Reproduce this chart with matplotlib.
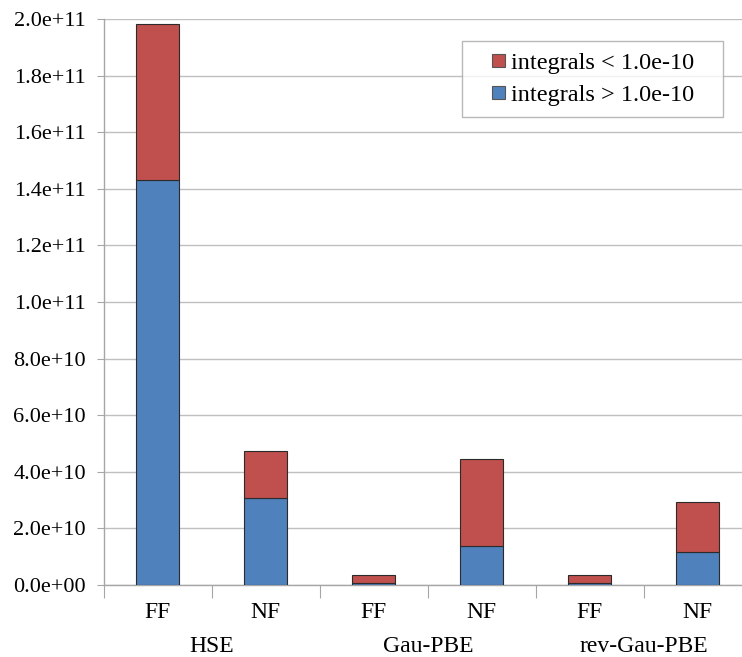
import numpy as np
import matplotlib.pyplot as plt
from matplotlib.patches import Patch, Rectangle
from matplotlib.legend_handler import HandlerPatch
from matplotlib.ticker import FuncFormatter, MultipleLocator
from matplotlib.transforms import blended_transform_factory

# ==========================================
# Data
# ==========================================
groups = ["HSE", "Gau-PBE", "rev-Gau-PBE"]
methods = ["FF", "NF", "FF", "NF", "FF", "NF"]
above = [1.432e11, 3.08e10, 6.0e8, 1.38e10, 6.0e8, 1.15e10]     # integrals > 1.0e-10
below = [0.551e11, 1.67e10, 2.9e9, 3.09e10, 2.9e9, 1.78e10]     # integrals < 1.0e-10

blue = "#4F81BD"
red = "#C0504D"
grey = "#A6A6A6"

plt.rcParams["font.family"] = ["Liberation Serif", "DejaVu Serif"]

# ==========================================
# Figure
# ==========================================
fig = plt.figure(figsize=(7.42, 6.57), dpi=100)
ax = fig.add_axes([0.140, 0.1096, 0.8733, 0.8614])

x = np.arange(len(methods))
ax.bar(x, above, width=0.4, color=blue, edgecolor="#2b2b2b", linewidth=0.8, zorder=3)
ax.bar(x, below, width=0.4, bottom=above, color=red, edgecolor="#2b2b2b",
       linewidth=0.8, zorder=3)

ax.set_xlim(-0.5, len(methods) - 0.5)
ax.set_ylim(0, 2.0e11)
ax.yaxis.set_major_locator(MultipleLocator(2.0e10))
ax.yaxis.set_major_formatter(FuncFormatter(lambda v, p: f"{v:.1e}"))
ax.tick_params(axis="y", labelsize=16, length=5, color=grey, direction="out", pad=8)
ax.grid(axis="y", color="#BFBFBF", linewidth=1.0, zorder=0)

for s in ["top", "right"]:
    ax.spines[s].set_visible(False)
for s in ["left", "bottom"]:
    ax.spines[s].set_color(grey)
    ax.spines[s].set_linewidth(1.0)

# category boundary ticks, labels drawn as text
ax.set_xticks(np.arange(len(methods) + 1) - 0.5)
ax.set_xticklabels([])
ax.tick_params(axis="x", length=9, color=grey, direction="out")

trans = blended_transform_factory(ax.transData, fig.transFigure)
for xi, m in zip(x, methods):
    ax.text(xi, 1 - 613 / 657, m, transform=trans, ha="center", va="center", fontsize=17)
for gi, g in enumerate(groups):
    ax.text(2 * gi + 0.5, 1 - 646 / 657, g, transform=trans, ha="center", va="center",
            fontsize=17)

# ==========================================
# Legend (small squares pushed to the right of the handle box)
# ==========================================
def right_square(legend, orig_handle, xdescent, ydescent, width, height, fontsize):
    side = 9.3
    return Rectangle((-xdescent + width - side, -ydescent + (height - side) / 2),
                     side, side)

handles = [Patch(facecolor=red, edgecolor="#555555", linewidth=0.8),
           Patch(facecolor=blue, edgecolor="#555555", linewidth=0.8)]
labels = ["integrals < 1.0e-10", "integrals > 1.0e-10"]
leg = ax.legend(handles, labels, loc="upper left", mode="expand",
                bbox_to_anchor=(462 / 742, 1 - 114 / 657, 261 / 742, 73 / 657),
                bbox_transform=fig.transFigure,
                handler_map={Patch: HandlerPatch(patch_func=right_square)},
                fontsize=17.5, frameon=True, fancybox=False, handlelength=1.32,
                handleheight=0.7, handletextpad=0.25, borderpad=0.45,
                labelspacing=0.4, borderaxespad=0)
leg.get_frame().set_edgecolor(grey)
leg.get_frame().set_linewidth(1.0)

fig.savefig("out.png", dpi=100)
